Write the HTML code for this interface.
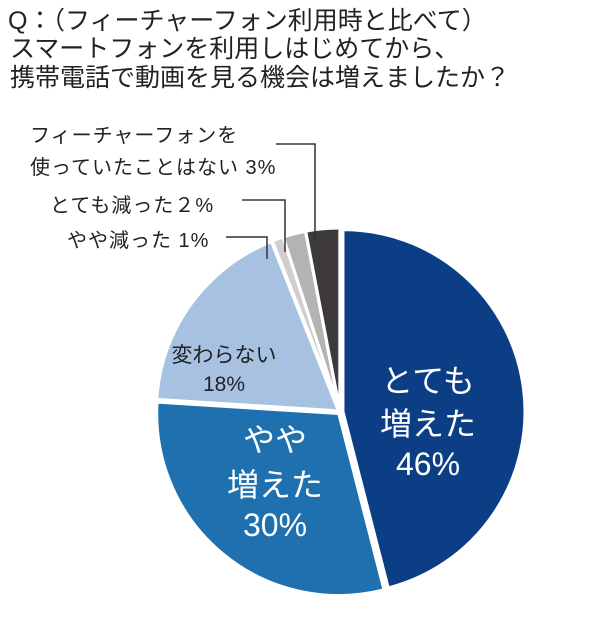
<!DOCTYPE html>
<html><head><meta charset="utf-8"><style>
html,body{margin:0;padding:0;background:#fff;}
svg{display:block;font-family:"Liberation Sans","Noto Sans CJK JP",sans-serif;}
</style></head><body>
<svg id="chart" width="608" height="620" viewBox="0 0 608 620">
<g font-size="25" fill="#222">
<text x="8" y="29">Q：（フィーチャーフォン利用時と比べて）</text>
<text x="10" y="57">スマートフォンを利用しはじめてから、</text>
<text x="10" y="86">携帯電話で動画を見る機会は増えましたか？</text>
</g>
<g id="slices"></g>
<g>
<text x="30" y="142" font-size="20" letter-spacing="1" fill="#222">フィーチャーフォンを</text>
<text x="30" y="174" font-size="20" letter-spacing="1" fill="#222">使っていたことはない 3%</text>
<polyline points="276,144 315,144 315,240" fill="none" stroke="#333" stroke-width="1.5"/>
<text x="50" y="212" font-size="20" letter-spacing="1" fill="#222">とても減った２%</text>
<polyline points="242,200 285,200 285,252" fill="none" stroke="#333" stroke-width="1.5"/>
<text x="67" y="247" font-size="20" letter-spacing="1" fill="#222">やや減った 1%</text>
<polyline points="226,237 267,237 267,259" fill="none" stroke="#333" stroke-width="1.5"/>
<g text-anchor="middle" font-size="21" fill="#222">
<text x="224" y="362">変わらない</text><text x="224" y="391">18%</text></g>
<g text-anchor="middle" font-size="32" fill="#fff">
<text x="428" y="392">とても</text><text x="428" y="435">増えた</text><text x="428" y="475">46%</text></g>
<g text-anchor="middle" font-size="32" fill="#fff">
<text x="275" y="451">やや</text><text x="275" y="496">増えた</text><text x="275" y="536">30%</text></g>
</g>
</svg>
<script>
const categories = ["とても増えた","やや増えた","変わらない","やや減った","とても減った","フィーチャーフォンを使っていたことはない"];
const values = [46,30,18,1,2,3];
const colors = ["#0b3e84","#1f70ae","#a7c2e0","#cfcfcf","#b3b3b3","#3d3a39"];
const names = ["slice-much-increased","slice-slightly-increased","slice-unchanged","slice-slightly-decreased","slice-much-decreased","slice-no-feature-phone"];
const cx=340, cy=412, r=182;
const g=document.getElementById('slices');
const total=values.reduce((a,b)=>a+b,0);
let a0=0;
values.forEach((v,i)=>{
  const a1=a0+v/total*2*Math.PI;
  const mid=(a0+a1)/2, off=i===0?3:2;
  const ox=cx+off*Math.sin(mid), oy=cy-off*Math.cos(mid);
  const x0=ox+r*Math.sin(a0), y0=oy-r*Math.cos(a0);
  const x1=ox+r*Math.sin(a1), y1=oy-r*Math.cos(a1);
  const large=(a1-a0)>Math.PI?1:0;
  const p=document.createElementNS('http://www.w3.org/2000/svg','path');
  p.setAttribute('d',`M${ox},${oy} L${x0},${y0} A${r},${r} 0 ${large} 1 ${x1},${y1} Z`);
  p.setAttribute('fill',colors[i]);
  p.setAttribute('stroke','#fff');
  p.setAttribute('stroke-width','3');
  
  
  g.appendChild(p);
  a0=a1;
});
</script>
</body></html>
